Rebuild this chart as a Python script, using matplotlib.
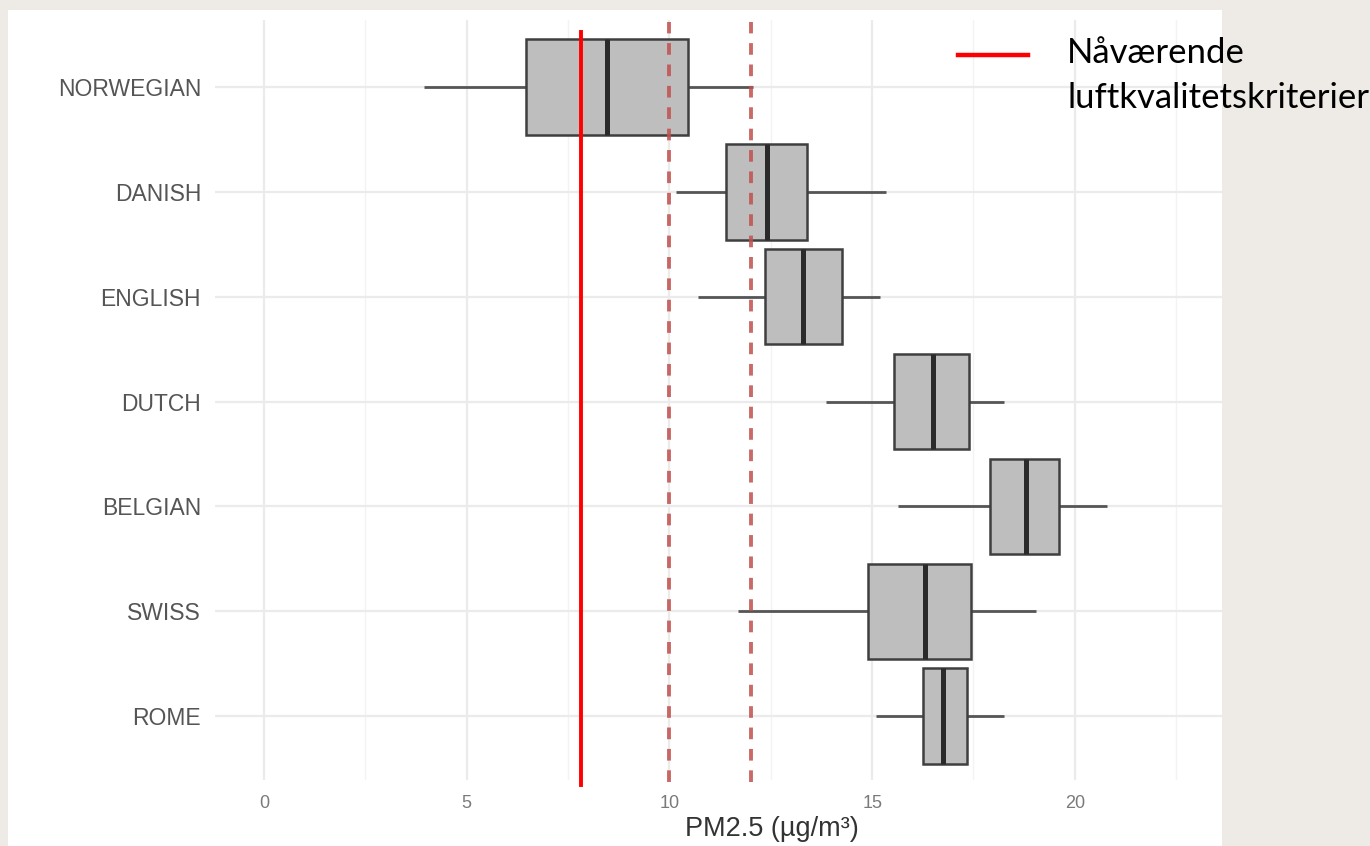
import matplotlib
matplotlib.use("Agg")
import matplotlib.pyplot as plt
from matplotlib.patches import Rectangle
from matplotlib.lines import Line2D
import numpy as np

# ---- data ----
categories = ["NORWEGIAN", "DANISH", "ENGLISH", "DUTCH", "BELGIAN", "SWISS", "ROME"]
whisker_low = [3.95, 10.15, 10.7, 13.85, 15.65, 11.7, 15.1]
q1 = [6.45, 11.4, 12.35, 15.55, 17.9, 14.9, 16.25]
median = [8.45, 12.4, 13.3, 16.5, 18.8, 16.3, 16.75]
q3 = [10.45, 13.4, 14.25, 17.4, 19.6, 17.45, 17.35]
whisker_high = [12.05, 15.35, 15.2, 18.25, 20.8, 19.05, 18.25]
current_limit = 7.83
reference_limits = [10.0, 12.0]
x_ticks = [0, 5, 10, 15, 20]
x_minor = [2.5, 7.5, 12.5, 17.5, 22.5]
legend_label = "Nåværende\nluftkvalitetskriterier"
x_label = "PM2.5 (µg/m³)"

W, H = 1370, 846
fig = plt.figure(figsize=(W / 100, H / 100), dpi=100)
fig.patch.set_facecolor("#EEEBE6")

# white panel
fig.add_artist(Rectangle((8 / W, 0), (1222 - 8) / W, 1 - 10 / H,
                         transform=fig.transFigure, facecolor="white",
                         edgecolor="none", zorder=0))

ax = fig.add_axes([215 / W, 1 - 780 / H, (1222 - 215) / W, (780 - 20) / H])
ax.set_facecolor("none")
for s in ax.spines.values():
    s.set_visible(False)

ax.set_xlim(-1.21, 23.63)
n = len(categories)
ax.set_ylim(n - 1 + 0.61, -0.64)

# gridlines
for xv in x_ticks:
    ax.axvline(xv, color="#EBEBEB", lw=1.6, zorder=1)
for xv in x_minor:
    ax.axvline(xv, color="#F3F3F3", lw=1.0, zorder=1)
for i in range(n):
    ax.axhline(i, color="#EBEBEB", lw=1.6, zorder=1)

# boxes
bw = 0.91
for i in range(n):
    ax.plot([whisker_low[i], q1[i]], [i, i], color="#555555", lw=2.0, zorder=3,
            solid_capstyle="butt")
    ax.plot([q3[i], whisker_high[i]], [i, i], color="#555555", lw=2.0, zorder=3,
            solid_capstyle="butt")
    ax.add_patch(Rectangle((q1[i], i - bw / 2), q3[i] - q1[i], bw,
                           facecolor="#BEBEBE", edgecolor="#3F3F3F", lw=1.8, zorder=4))
    ax.plot([median[i], median[i]], [i - bw / 2, i + bw / 2], color="#2A2A2A",
            lw=3.6, zorder=5, solid_capstyle="butt")

# reference dashed lines
for xv in reference_limits:
    ax.axvline(xv, ymin=-0.003, ymax=0.997, color="#C0504D", lw=2.8,
               linestyle=(0, (3, 2.5)), zorder=6, alpha=0.85, clip_on=False)

# current criterion
ax.axvline(current_limit, ymin=-0.006, ymax=1 - 12 / 760, color="#FF0000", lw=2.8,
           zorder=7, clip_on=False)

# ticks
ax.set_xticks(x_ticks)
ax.set_xticklabels([str(t) for t in x_ticks])
ax.set_yticks(range(n))
ax.set_yticklabels(categories)
ax.tick_params(axis="both", length=0)
ax.tick_params(axis="x", labelsize=13, labelcolor="#7A7A7A", pad=11)
ax.tick_params(axis="y", labelsize=16.5, labelcolor="#555555", pad=10)
for lab in ax.get_xticklabels() + ax.get_yticklabels():
    lab.set_fontfamily("Liberation Sans")

ax.set_xlabel(x_label, fontsize=19.5, color="#333333", family="Liberation Sans")
ax.xaxis.label.set_va("top")
ax.xaxis.set_label_coords((772 - 215) / (1222 - 215), -(816 - 780) / 760)

# legend
fig.add_artist(Line2D([958 / W, 1028 / W], [1 - 55 / H, 1 - 55 / H],
                      transform=fig.transFigure, color="#FF0000", lw=3.2))
fig.text(1067 / W, 1 - 37 / H, legend_label, fontsize=25, family="Lato",
         color="black", va="top", ha="left", linespacing=1.5)

fig.savefig("out.png", dpi=100, facecolor=fig.get_facecolor())
